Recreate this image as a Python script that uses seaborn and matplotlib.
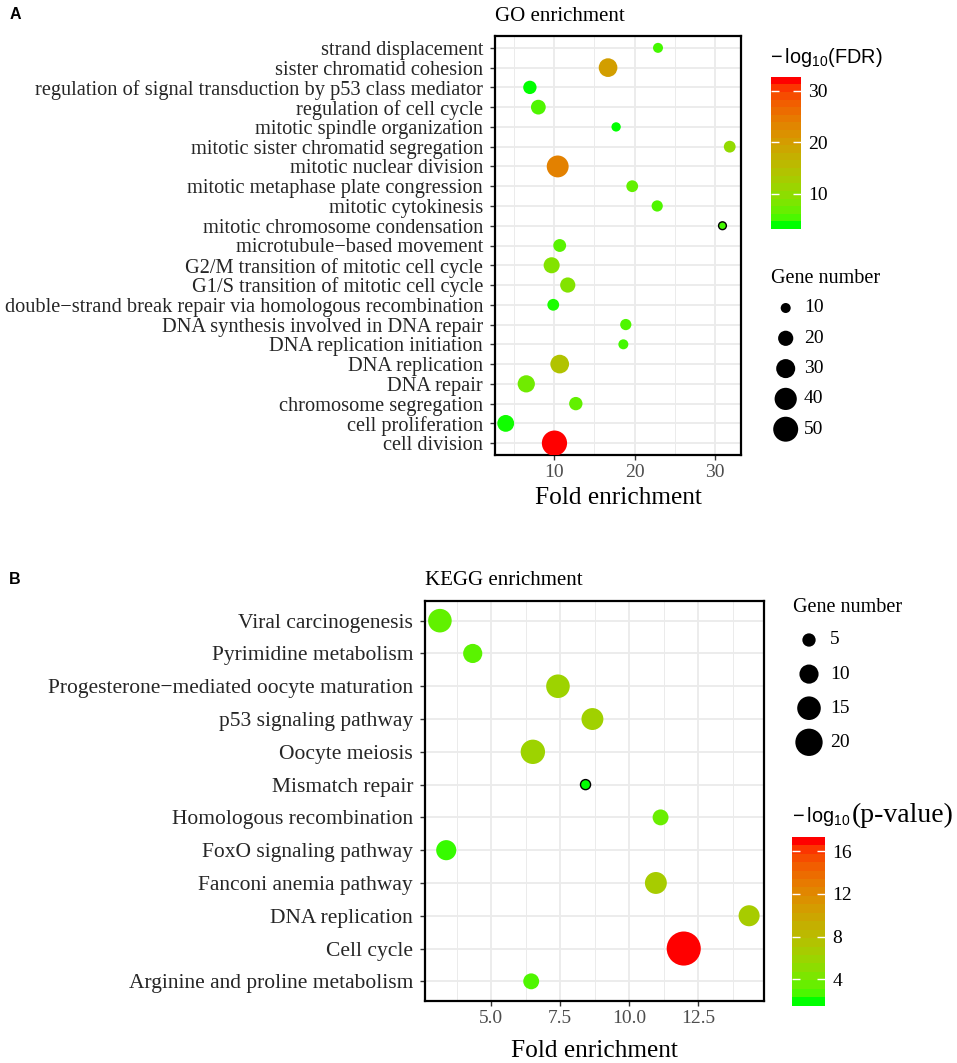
import numpy as np
import pandas as pd
import matplotlib
matplotlib.use("Agg")
import matplotlib.pyplot as plt
from matplotlib.colors import ListedColormap, Normalize
from matplotlib.cm import ScalarMappable
from matplotlib.ticker import FixedLocator
import seaborn as sns

plt.rcParams['font.family'] = ['Liberation Serif', 'DejaVu Serif']

# ---------------- data ----------------
go_terms = ["strand displacement", "sister chromatid cohesion",
            "regulation of signal transduction by p53 class mediator",
            "regulation of cell cycle", "mitotic spindle organization",
            "mitotic sister chromatid segregation", "mitotic nuclear division",
            "mitotic metaphase plate congression", "mitotic cytokinesis",
            "mitotic chromosome condensation", "microtubule\u2212based movement",
            "G2/M transition of mitotic cell cycle", "G1/S transition of mitotic cell cycle",
            "double\u2212strand break repair via homologous recombination",
            "DNA synthesis involved in DNA repair", "DNA replication initiation",
            "DNA replication", "DNA repair", "chromosome segregation",
            "cell proliferation", "cell division"]
go_fold = [22.9, 16.7, 7.0, 8.05, 17.7, 31.8, 10.45, 19.7, 22.8, 30.9, 10.7,
           9.7, 11.7, 9.9, 18.9, 18.6, 10.7, 6.55, 12.7, 4.0, 10.05]
go_genes = [10, 29, 16, 19, 9, 13, 39, 13, 12, 7, 15, 22, 20, 13, 12, 10, 29, 25, 16, 24, 51]
go_logfdr = [4.5, 20.0, 3.2, 5.0, 3.3, 10.0, 24.0, 6.0, 5.0, 4.5, 5.5, 8.5, 8.5, 3.5,
             5.0, 4.5, 14.0, 7.0, 6.0, 3.4, 32.7]

kegg_terms = ["Viral carcinogenesis", "Pyrimidine metabolism",
              "Progesterone\u2212mediated oocyte maturation", "p53 signaling pathway",
              "Oocyte meiosis", "Mismatch repair", "Homologous recombination",
              "FoxO signaling pathway", "Fanconi anemia pathway", "DNA replication",
              "Cell cycle", "Arginine and proline metabolism"]
kegg_fold = [3.14, 4.33, 7.42, 8.67, 6.51, 8.42, 11.14, 3.37, 10.97, 14.35, 11.98, 6.45]
kegg_genes = [15, 10, 15, 13, 16, 3, 7, 11, 13, 12, 31, 7]
kegg_logp = [3.0, 2.8, 5.8, 6.0, 5.8, 1.53, 3.3, 2.0, 6.5, 6.5, 17.34, 2.5]

go_size_breaks = [10, 20, 30, 40, 50]
go_color_ticks = [10, 20, 30]
kegg_size_breaks = [5, 10, 15, 20]
kegg_color_ticks = [4, 8, 12, 16]
kegg_xticks = [5.0, 7.5, 10.0, 12.5]
kegg_xticklabels = ["5.0", "7.5", "10.0", "12.5"]

# ---------------- colour scale (green -> red interpolated in CIELAB) ----------------
_M = np.array([[0.4124564, 0.3575761, 0.1804375],
               [0.2126729, 0.7151522, 0.0721750],
               [0.0193339, 0.1191920, 0.9503041]])
_W = np.array([0.95047, 1.0, 1.08883])


def srgb2lab(c):
    c = np.asarray(c, float)
    lin = np.where(c <= 0.04045, c / 12.92, ((c + 0.055) / 1.055) ** 2.4)
    t = (lin @ _M.T) / _W
    d = 6 / 29
    f = np.where(t > d ** 3, np.cbrt(t), t / (3 * d * d) + 4 / 29)
    return np.stack([116 * f[..., 1] - 16, 500 * (f[..., 0] - f[..., 1]),
                     200 * (f[..., 1] - f[..., 2])], -1)


def lab2srgb(lab):
    L, a, b = lab[..., 0], lab[..., 1], lab[..., 2]
    fy = (L + 16) / 116
    f = np.stack([fy + a / 500, fy, fy - b / 200], -1)
    d = 6 / 29
    t = np.where(f > d, f ** 3, 3 * d * d * (f - 4 / 29))
    lin = np.clip((t * _W) @ np.linalg.inv(_M).T, 0, 1)
    c = np.where(lin <= 0.0031308, 12.92 * lin, 1.055 * lin ** (1 / 2.4) - 0.055)
    return np.clip(c, 0, 1)


def lab_ramp(n):
    g = srgb2lab([0.0, 1.0, 0.0])
    r = srgb2lab([1.0, 0.0, 0.0])
    tt = np.linspace(0, 1, n)[:, None]
    return lab2srgb(g + (r - g) * tt)


cmap = ListedColormap(lab_ramp(256))
cmap_bins = ListedColormap(lab_ramp(20))

# ---------------- size scales (marker area linear in value) ----------------
PX2PT2 = 0.72 ** 2


def go_area(v):
    return (-31 + 13.1 * v) * PX2PT2


def kegg_area(v):
    return (-12.3 + 37.9 * v) * PX2PT2


W, H = 957, 1063
fig = plt.figure(figsize=(W / 100, H / 100), dpi=100)


def px_axes(l, t, r, b):
    return fig.add_axes([l / W, 1 - b / H, (r - l) / W, (b - t) / H])


def style_axes(ax, n, ysize):
    ax.set_ylim(-0.6, n - 0.4)
    ax.set_axisbelow(True)
    ax.grid(which='major', color='#EBEBEB', lw=1.3)
    ax.grid(which='minor', axis='x', color='#EBEBEB', lw=0.7)
    for s in ax.spines.values():
        s.set_color('black')
        s.set_linewidth(1.6)
    ax.tick_params(axis='both', which='major', length=3.6, width=1.0, color='#333333')
    ax.tick_params(axis='x', which='major', labelsize=14, labelcolor='#4D4D4D', pad=3)
    ax.tick_params(axis='y', which='major', labelsize=ysize, labelcolor='#262626', pad=5)
    ax.tick_params(axis='x', which='minor', length=0)
    ax.set_ylabel('')


def draw_panel(ax, terms, fold, genes, col, area_fn, hue_norm):
    df = pd.DataFrame({'term': terms[::-1], 'fold': fold[::-1],
                       'genes': genes[::-1], 'col': col[::-1]})
    gmin, gmax = min(genes), max(genes)
    sns.scatterplot(data=df, x='fold', y='term', hue='col', size='genes',
                    palette=cmap, hue_norm=hue_norm,
                    sizes=(area_fn(gmin), area_fn(gmax)), size_norm=(gmin, gmax),
                    linewidth=0, legend=False, ax=ax, zorder=3)
    coll = ax.collections[-1]
    coll.set_edgecolors([(0, 0, 0, 1) if g == gmin else (0, 0, 0, 0) for g in df['genes']])
    coll.set_linewidths([1.0 if g == gmin else 0 for g in df['genes']])


# ---------------- panel A ----------------
axA = px_axes(495, 36, 741, 455)
go_hue_norm = (min(go_logfdr), max(go_logfdr))
draw_panel(axA, go_terms, go_fold, go_genes, go_logfdr, go_area, go_hue_norm)
axA.set_xlim(2.67, 33.2)
axA.xaxis.set_major_locator(FixedLocator([10, 20, 30]))
axA.xaxis.set_minor_locator(FixedLocator([5, 15, 25]))
style_axes(axA, len(go_terms), 14.7)
axA.set_title('GO enrichment', loc='left', fontsize=15, pad=10.5)
axA.set_xlabel('Fold enrichment', fontsize=18.3)
axA.xaxis.set_label_coords(0.5, (455 - 504) / 419)
axA.xaxis.label.set_va('baseline')

# ---------------- panel B ----------------
axB = px_axes(425, 601, 764, 1001)
kegg_hue_norm = (min(kegg_logp), max(kegg_logp))
draw_panel(axB, kegg_terms, kegg_fold, kegg_genes, kegg_logp, kegg_area, kegg_hue_norm)
axB.set_xlim(2.60, 14.89)
axB.xaxis.set_major_locator(FixedLocator(kegg_xticks))
axB.set_xticklabels(kegg_xticklabels)
axB.xaxis.set_minor_locator(FixedLocator([3.75, 6.25, 8.75, 11.25, 13.75]))
style_axes(axB, len(kegg_terms), 15.5)
axB.set_title('KEGG enrichment', loc='left', fontsize=15, pad=11.5)
axB.set_xlabel('Fold enrichment', fontsize=18.3)
axB.xaxis.set_label_coords(0.5, (1001 - 1057) / 400)
axB.xaxis.label.set_va('baseline')

# ---------------- colour bars ----------------
def colorbar(l, t, r, b, norm, ticks):
    cax = px_axes(l, t, r, b)
    cb = fig.colorbar(ScalarMappable(norm=Normalize(*norm), cmap=cmap_bins), cax=cax, ticks=ticks)
    cb.outline.set_visible(False)
    cax.tick_params(direction='in', length=6, width=1.0, color='white', left=True, right=True,
                    labelsize=14, labelcolor='black', pad=5)
    for lab in cax.get_yticklabels():
        lab.set_family(['Liberation Serif', 'DejaVu Serif'])
    return cb


colorbar(770.7, 76.7, 801, 229, go_hue_norm, go_color_ticks)
colorbar(792, 836.7, 825.3, 1005.7, kegg_hue_norm, kegg_color_ticks)

fig.text(770 / W, 1 - 63 / H, r'$\mathregular{-\,log_{10}(FDR)}$', family='Liberation Sans',
         fontsize=14.3, va='baseline', ha='left')
t1 = fig.text(792 / W, 1 - 822 / H, r'$\mathregular{-\,log_{10}}$', family='Liberation Sans',
              fontsize=14.3, va='baseline', ha='left')
fig.canvas.draw()
bb = t1.get_window_extent(fig.canvas.get_renderer())
fig.text((bb.x1 + 1) / W, 1 - 822 / H, '(p-value)', family='Liberation Serif',
         fontsize=20, va='baseline', ha='left')

# ---------------- size legends ----------------
lax = fig.add_axes([0, 0, 1, 1], zorder=5)
lax.set_xlim(0, W)
lax.set_ylim(H, 0)
lax.axis('off')


def size_legend(x_title, y_title, x_pt, x_lab, y0, dy, breaks, area_fn):
    lax.text(x_title, y_title, 'Gene number', fontsize=14.5, va='baseline', ha='left')
    ys = [y0 + i * dy for i in range(len(breaks))]
    lax.scatter([x_pt] * len(breaks), ys, s=[area_fn(v) for v in breaks],
                color='black', linewidth=0)
    for y, v in zip(ys, breaks):
        lax.text(x_lab, y, str(v), fontsize=14, va='center', ha='left')


size_legend(771, 283, 785.7, 804, 308, 30.3, go_size_breaks, go_area)
size_legend(792.7, 612, 809, 830, 640, 34.1, kegg_size_breaks, kegg_area)

# panel letters
fig.text(10 / W, 1 - 19 / H, 'A', family='Liberation Sans', fontweight='bold', fontsize=11.5, va='baseline')
fig.text(9 / W, 1 - 584 / H, 'B', family='Liberation Sans', fontweight='bold', fontsize=11.5, va='baseline')

fig.savefig('out.png', dpi=100)
